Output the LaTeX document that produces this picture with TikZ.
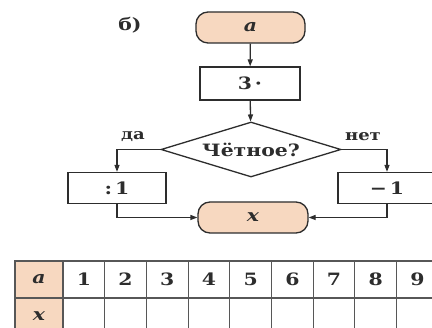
\documentclass[tikz,border=0pt]{standalone}
\usepackage{fontspec}
\setmainfont[FakeStretch=1.2]{DejaVu Serif}
\usetikzlibrary{shapes.geometric,arrows.meta}
\definecolor{peach}{RGB}{247,216,192}
\definecolor{ink}{RGB}{45,45,45}
\begin{document}
\begin{tikzpicture}[x=1pt,y=-1pt,
  font=\fontsize{17}{20}\selectfont\bfseries,
  every node/.style={text=ink},
  term/.style={draw=ink, line width=1.3pt, fill=peach, rounded corners=12pt,
    minimum width=109pt, minimum height=31pt, inner sep=0pt},
  procbox/.style={draw=ink, line width=1.3pt, fill=white, minimum width=98pt,
    minimum height=31pt, inner sep=0pt},
  decide/.style={diamond, draw=ink, line width=1.3pt, fill=white,
    minimum width=180pt, minimum height=55pt, inner sep=0pt},
  arr/.style={draw=ink, line width=1.3pt, -{Triangle[length=7pt,width=5pt]}},
  cell/.style={draw=ink!80, line width=1.1pt, minimum width=41.7pt,
    minimum height=37pt, inner sep=0pt},
  smalllbl/.style={font=\fontsize{15}{18}\selectfont\bfseries}]
\useasboundingbox (0,0) rectangle (432,328);
\clip (0,0) rectangle (432,328);
\fill[white] (0,0) rectangle (432,328);

\node (lbl) at (130,25) {б)};
\node[term] (a) at (250.5,27.5) {\textit{a}};
\node[procbox, minimum width=100pt, minimum height=33pt] (m3) at (250,83.5) {3\,·};
\node[decide] (d) at (251,149.5) {};
\node (dt) at (d.center) {Чётное?};
\node[smalllbl] (da) at (133,137) {да};
\node[smalllbl] (net) at (363,137) {нет};
\node[procbox] (b1) at (117,188) {:\,1};
\node[procbox] (b2) at (387,188) {−\,1};
\node[term, minimum width=110pt] (x) at (253,217.5) {\textit{x}};

\draw[arr] (a) -- (m3);
\draw[arr] (m3) -- (d);
\draw[arr] (d.west) -| (b1.north);
\draw[arr] (d.east) -| (b2.north);
\draw[arr] (b1.south) |- (x.west);
\draw[arr] (b2.south) |- (x.east);

\node[cell, fill=peach, minimum width=48pt] (ha) at (39,279.5) {\textit{a}};
\node[cell, fill=peach, minimum width=48pt] (hx) at (39,316.5) {\textit{x}};
\foreach \i in {1,...,9} {
  \node[cell] (c\i) at ({63+41.7*(\i-0.5)},279.5) {\i};
  \node[cell] (e\i) at ({63+41.7*(\i-0.5)},316.5) {};
}
\end{tikzpicture}
\end{document}
